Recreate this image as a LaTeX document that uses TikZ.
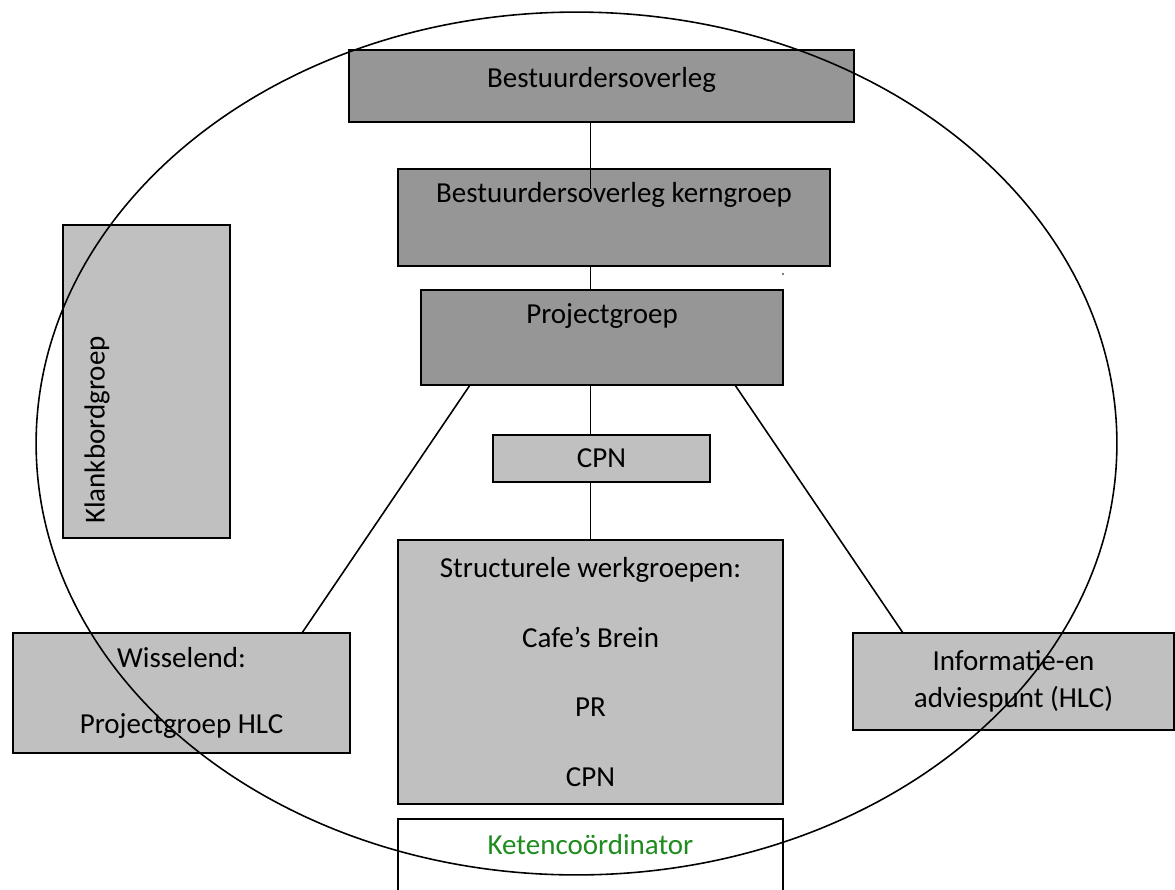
\documentclass[tikz,border=0pt]{standalone}
\usepackage{fontspec}
\setmainfont{Carlito}
\usepackage{tikz}
\usetikzlibrary{positioning}
\definecolor{boxdark}{RGB}{150,150,150}
\definecolor{boxlight}{RGB}{192,192,192}
\definecolor{ketengreen}{RGB}{30,140,30}

\begin{document}
\begin{tikzpicture}[x=0.02cm,y=-0.02cm,
        every node/.style={font=\fontsize{16.5}{20}\selectfont},
        box/.style={draw,line width=1pt,inner sep=0pt,outer sep=0pt},
        dark/.style={box,fill=boxdark},
        light/.style={box,fill=boxlight},
        conn/.style={line width=0.9pt}]
        \useasboundingbox (0,0) rectangle (1175,889);

        % Boxes
        \node [dark,minimum width=10.1cm,minimum height=1.44cm,
            label={[anchor=center,yshift=-0.6cm]north:Bestuurdersoverleg}]
            (bestuur) at (601.5,86) {};
        \node [dark,minimum width=8.64cm,minimum height=1.94cm,
            label={[anchor=center,yshift=-0.52cm]north:Bestuurdersoverleg kerngroep}]
            (kern) at (614,217.5) {};
        \node [dark,minimum width=7.24cm,minimum height=1.9cm,
            label={[anchor=center,yshift=-0.53cm]north:Projectgroep}]
            (project) at (602,337.5) {};
        \node [light,minimum width=4.34cm,minimum height=0.94cm]
            (cpn) at (601.5,458.5) {CPN};
        \node [light,minimum width=7.7cm,minimum height=5.28cm,align=center,
            font=\fontsize{16.5}{39.6}\selectfont] (struct) at (590.5,672)
            {Structurele werkgroepen:\\Cafe’s Brein\\PR\\CPN};
        \node [box,fill=white,minimum width=7.7cm,minimum height=2cm,
            label={[anchor=center,yshift=-0.52cm,text=ketengreen]north:Ketencoördinator}]
            (keten) at (590.5,869) {};

        \node [light,minimum width=3.34cm,minimum height=6.26cm]
            (klank) at (146.5,381.5) {};
        \node [rotate=90] (klanktxt) at ([xshift=-0.99cm,yshift=-0.97cm]klank.center)
            {Klankbordgroep};
        \node [light,minimum width=6.74cm,minimum height=2.4cm,align=center,
            font=\fontsize{16.5}{37.6}\selectfont] (wissel) at (181.5,693)
            {Wisselend:\\Projectgroep HLC};
        \node [light,minimum width=6.42cm,minimum height=1.94cm,align=center,
            font=\fontsize{16.5}{21}\selectfont] (info) at (1013.5,681.5)
            {Informatie-en\\adviespunt (HLC)};

        % Lines
        \coordinate (kerntop) at (struct.north |- kern.north);
        \draw [conn] (struct.north |- bestuur.south) -- ([yshift=-0.4cm]kerntop);
        \draw [conn] (struct.north |- kern.south) -- (struct.north |- project.north);
        \draw [conn] (struct.north |- project.south) -- (struct.north |- cpn.north);
        \draw [conn] (struct.north |- cpn.south) -- (struct.north);
        \draw [conn] ([xshift=0.98cm]project.south west) -- ([xshift=5.78cm]wissel.north west);
        \draw [conn] ([xshift=-0.96cm]project.south east) -- ([xshift=1cm]info.north west);
        \fill [gray] (782,273) rectangle (784,275);

        % Ellipse
        \draw [line width=0.9pt] (576.5,443.5) ellipse [x radius=10.81cm, y radius=8.63cm];
\end{tikzpicture}
\end{document}
